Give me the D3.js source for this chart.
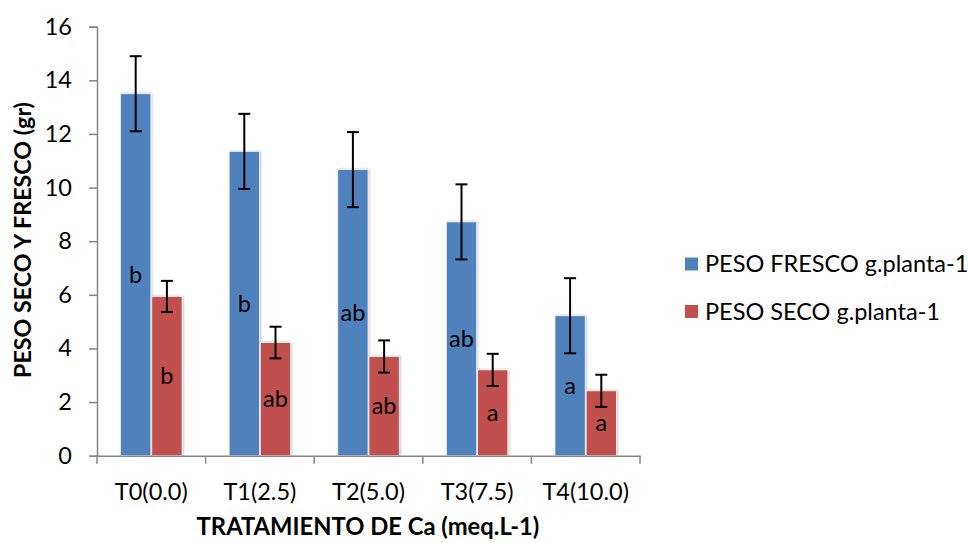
<!DOCTYPE html>
<html><head><meta charset="utf-8">
<script src="https://cdn.jsdelivr.net/npm/d3@7"></script>
<style>body{margin:0;background:#fff}svg{display:block}text{font-family:Lato,"Open Sans",sans-serif}</style>
</head><body><svg id="c" width="968" height="543"></svg>
<script>
const categories = ["T0(0.0)","T1(2.5)","T2(5.0)","T3(7.5)","T4(10.0)"];
const seriesNames = ["PESO FRESCO g.planta-1","PESO SECO g.planta-1"];
const fresco = [13.5, 11.35, 10.67, 8.72, 5.22];
const seco = [5.94, 4.22, 3.7, 3.2, 2.42];
const frescoErr = [1.4, 1.4, 1.4, 1.4, 1.4];
const secoErr = [0.58, 0.59, 0.6, 0.6, 0.6];
const frescoLbl = ["b","b","ab","ab","a"];
const secoLbl = ["b","ab","ab","a","a"];
const yTicks = [0,2,4,6,8,10,12,14,16];
const colors = ["#4F81BD","#C0504D"];

const FS = 23.5;
const svg = d3.select("#c");
const m = {l:97, r:640, t:26.7, b:455.7};
const x = d3.scaleBand().domain(categories).range([m.l, m.r]).paddingInner(0).paddingOuter(0);
const y = d3.scaleLinear().domain([0,16]).range([m.b, m.t]);
const sub = d3.scaleBand().domain([0,1]).range([0, 61.5]).paddingInner(0.03);
const off = (x.bandwidth()-61.5)/2;

function fit(sel, target){
  sel.each(function(){
    const w = this.getComputedTextLength();
    const fs = parseFloat(d3.select(this).attr("font-size"));
    if (w>0) d3.select(this).attr("font-size", fs*target/w);
  });
}

const defs = svg.append("defs");
const f = defs.append("filter").attr("id","sh").attr("x","-20%").attr("y","-5%").attr("width","140%").attr("height","110%");
f.append("feDropShadow").attr("dx",1).attr("dy",0).attr("stdDeviation",1.2).attr("flood-color","#000").attr("flood-opacity",0.25);

const data = categories.map((c,i)=>({c, vals:[
  {s:0, v:fresco[i], e:frescoErr[i], l:frescoLbl[i]},
  {s:1, v:seco[i], e:secoErr[i], l:secoLbl[i]}]}));

// axes
const ya = svg.append("g").attr("transform",`translate(${m.l},0)`)
  .call(d3.axisLeft(y).tickValues(yTicks).tickSize(8).tickPadding(17).tickFormat(d3.format("d")));
ya.select(".domain").attr("stroke","#868686").attr("stroke-width",1.5);
ya.selectAll(".tick line").attr("stroke","#868686").attr("stroke-width",1.5);
ya.selectAll("text").attr("font-size",FS).attr("fill","#000").attr("font-family","Lato,sans-serif");

const g = svg.append("g");
const grp = g.selectAll("g.cat").data(data).join("g").attr("class","cat")
  .attr("transform",d=>`translate(${x(d.c)+off},0)`);
grp.selectAll("rect").data(d=>d.vals).join("rect")
  .attr("x",d=>sub(d.s)).attr("width",sub.bandwidth())
  .attr("y",d=>y(d.v)).attr("height",d=>y(0)-y(d.v))
  .attr("fill",d=>colors[d.s]).attr("stroke","#f4f4f4").attr("stroke-width",0.8)
  .attr("filter","url(#sh)");
grp.selectAll("text.lbl").data(d=>d.vals).join("text").attr("class","lbl")
  .attr("x",d=>sub(d.s)+sub.bandwidth()/2).attr("y",d=>(y(d.v)+y(0))/2)
  .attr("dy","0.35em").attr("text-anchor","middle").attr("font-size",FS).attr("fill","#000")
  .text(d=>d.l);
const eb = grp.selectAll("g.eb").data(d=>d.vals).join("g").attr("class","eb")
  .attr("stroke","#000").attr("stroke-width",2);
eb.append("line").attr("x1",d=>sub(d.s)+sub.bandwidth()/2).attr("x2",d=>sub(d.s)+sub.bandwidth()/2)
  .attr("y1",d=>y(d.v+d.e)).attr("y2",d=>y(d.v-d.e));
eb.append("line").attr("x1",d=>sub(d.s)+sub.bandwidth()/2-6).attr("x2",d=>sub(d.s)+sub.bandwidth()/2+6)
  .attr("y1",d=>y(d.v+d.e)).attr("y2",d=>y(d.v+d.e));
eb.append("line").attr("x1",d=>sub(d.s)+sub.bandwidth()/2-6).attr("x2",d=>sub(d.s)+sub.bandwidth()/2+6)
  .attr("y1",d=>y(d.v-d.e)).attr("y2",d=>y(d.v-d.e));

// x axis
const xa = svg.append("g").attr("transform",`translate(0,${m.b})`)
  .call(d3.axisBottom(x).tickSize(0).tickPadding(0));
xa.select(".domain").attr("stroke","#868686").attr("stroke-width",1.5);
xa.selectAll("text").attr("font-size",FS).attr("fill","#000").attr("font-family","Lato,sans-serif")
  .attr("y",36).attr("dy","0.35em");
xa.selectAll("line.bnd").data(d3.range(categories.length+1)).join("line").attr("class","bnd")
  .attr("x1",i=>m.l+i*x.step()).attr("x2",i=>m.l+i*x.step()).attr("y1",0).attr("y2",8)
  .attr("stroke","#868686").attr("stroke-width",1.5);

// titles
const xt = svg.append("text").attr("x",368).attr("y",527).attr("dy","0.35em").attr("text-anchor","middle")
  .attr("font-size",20).attr("font-weight","bold").text("TRATAMIENTO DE Ca (meq.L-1)");
fit(xt, 343);
const yt = svg.append("text").attr("transform","translate(22.5,240) rotate(-90)").attr("dy","0.35em").attr("text-anchor","middle")
  .attr("font-size",20).attr("font-weight","bold").text("PESO SECO Y FRESCO (gr)");
fit(yt, 276);

// legend
const lg = svg.append("g").selectAll("g").data(seriesNames).join("g")
  .attr("transform",(d,i)=>`translate(685,${264+i*47.5})`);
lg.append("rect").attr("x",0).attr("y",-6.5).attr("width",13).attr("height",13).attr("fill",(d,i)=>colors[i]);
lg.append("text").attr("x",20).attr("dy","0.35em").attr("font-size",FS).text(d=>d);
</script></body></html>
